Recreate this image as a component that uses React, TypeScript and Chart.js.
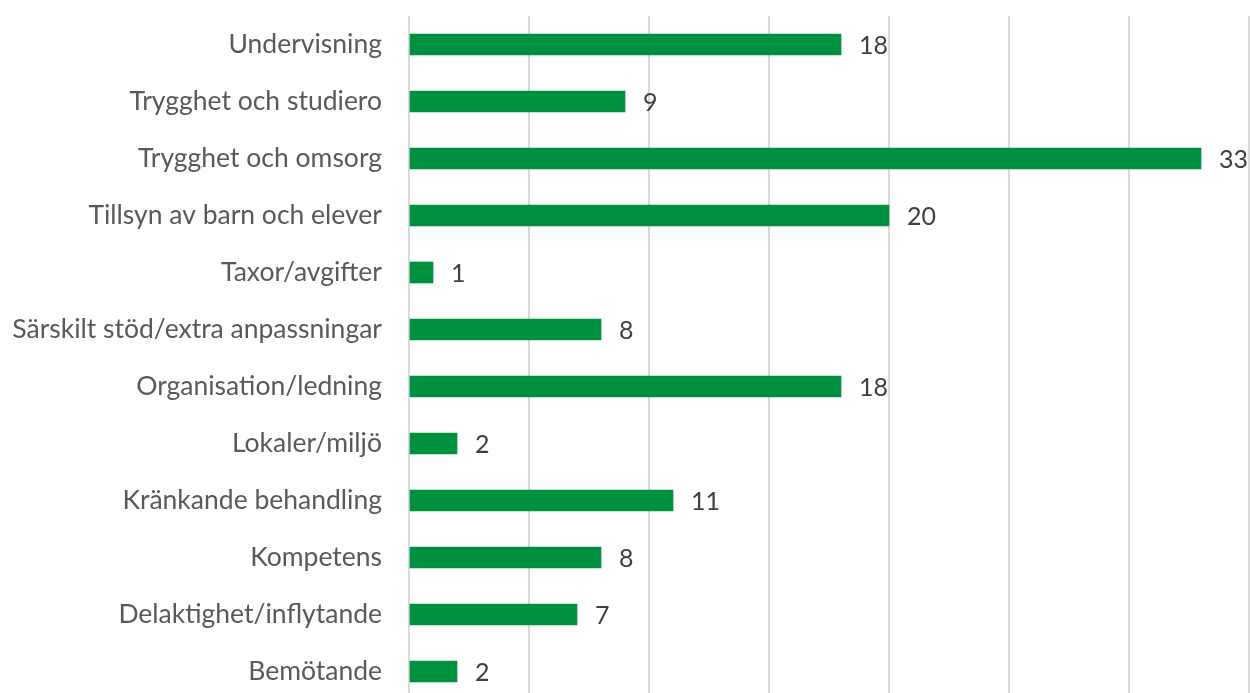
import React, { useEffect, useRef } from "react";
import { Chart, registerables } from "chart.js";

Chart.register(...registerables);

const categories = [
  "Undervisning",
  "Trygghet och studiero",
  "Trygghet och omsorg",
  "Tillsyn av barn och elever",
  "Taxor/avgifter",
  "Särskilt stöd/extra anpassningar",
  "Organisation/ledning",
  "Lokaler/miljö",
  "Kränkande behandling",
  "Kompetens",
  "Delaktighet/inflytande",
  "Bemötande",
];
const values = [18, 9, 33, 20, 1, 8, 18, 2, 11, 8, 7, 2];

const FONT = "Lato, 'Noto Sans', sans-serif";

const valueLabels = {
  id: "valueLabels",
  afterDatasetsDraw(chart: any) {
    const { ctx } = chart;
    const meta = chart.getDatasetMeta(0);
    ctx.save();
    ctx.font = `25px ${FONT}`;
    ctx.fillStyle = "#404040";
    ctx.textAlign = "left";
    ctx.textBaseline = "middle";
    meta.data.forEach((bar: any, i: number) => {
      ctx.fillText(String(values[i]), bar.x + 18, bar.y + 1);
    });
    ctx.restore();
  },
};

export default function App() {
  const ref = useRef<HTMLCanvasElement>(null);
  useEffect(() => {
    if (!ref.current) return;
    const chart = new Chart(ref.current, {
      type: "bar",
      data: {
        labels: categories,
        datasets: [
          {
            data: values,
            backgroundColor: "#009140",
            barThickness: 21,
          },
        ],
      },
      options: {
        indexAxis: "y",
        animation: false,
        responsive: false,
        devicePixelRatio: 1,
        layout: { padding: { top: 16, right: 1, bottom: 0, left: 0 } },
        plugins: { legend: { display: false }, tooltip: { enabled: false } },
        scales: {
          x: {
            min: 0,
            max: 35,
            ticks: { display: false, stepSize: 5 },
            grid: { color: "#d9d9d9", lineWidth: 2, drawTicks: false },
            border: { display: false },
            afterFit(scale: any) {
              scale.height = 0;
              scale.paddingLeft = 0;
              scale.paddingRight = 0;
            },
          },
          y: {
            grid: { display: false, drawTicks: false },
            border: { display: false },
            ticks: {
              padding: 27,
              color: "#595959",
              font: { family: FONT, size: 26.5 },
            },
            afterFit(scale: any) {
              scale.width = 409;
              scale.paddingTop = 0;
              scale.paddingBottom = 0;
            },
          },
        },
      },
      plugins: [valueLabels],
    });
    return () => chart.destroy();
  }, []);
  return (
    <div
      style={{
        position: "fixed",
        top: 0,
        left: 0,
        width: 1250,
        height: 693,
        overflow: "hidden",
        background: "#fff",
      }}
    >
      <canvas ref={ref} width={1250} height={700} style={{ display: "block" }} />
    </div>
  );
}
